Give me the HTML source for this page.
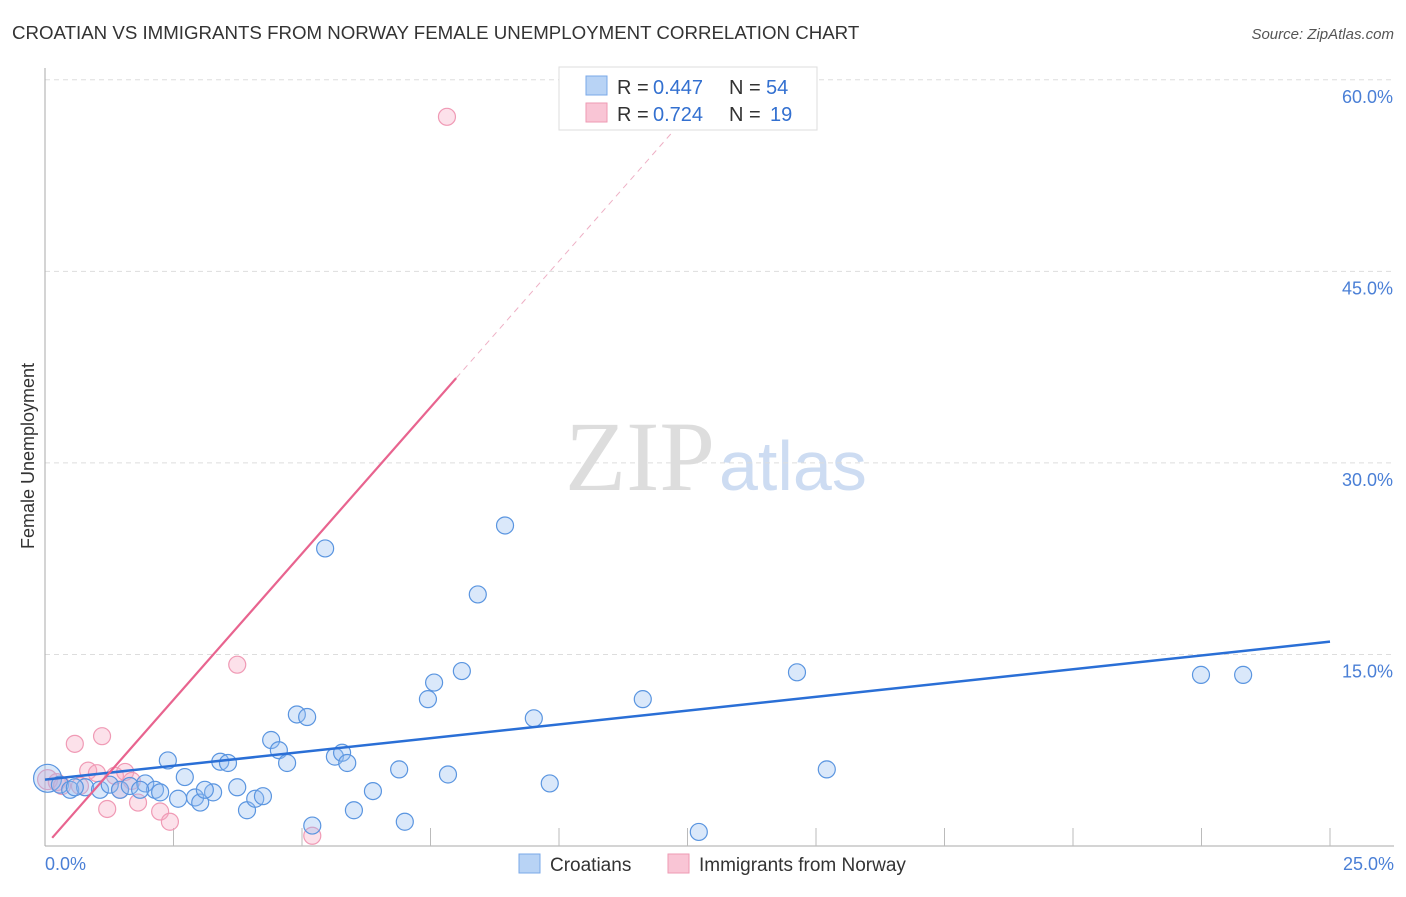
<!DOCTYPE html>
<html><head><meta charset="utf-8"><style>
body{margin:0;background:#fff;font-family:"Liberation Sans",sans-serif}
</style></head><body>
<svg id="chart" width="1406" height="892" font-family="Liberation Sans, sans-serif">
<text x="12" y="39" font-size="18.7" fill="#333">CROATIAN VS IMMIGRANTS FROM NORWAY FEMALE UNEMPLOYMENT CORRELATION CHART</text>
<text x="1394" y="39" font-size="15" fill="#555" font-style="italic" text-anchor="end">Source: ZipAtlas.com</text>
<text x="34" y="456" font-size="18" fill="#333" transform="rotate(-90 34 456)" text-anchor="middle">Female Unemployment</text>
<text x="715" y="490" font-size="100" fill="#ddd" text-anchor="end" font-family="Liberation Serif, serif">ZIP</text>
<text x="719" y="490" font-size="70" fill="#cddcf2">atlas</text>
<g id="grid"></g><g id="marks"></g>
<g>
<rect x="559" y="67" width="258" height="63" fill="#fff" stroke="#ddd"/>
<rect x="586" y="76" width="21" height="19" fill="#b8d3f5" stroke="#7aa8e8"/>
<rect x="586" y="103" width="21" height="19" fill="#f9c5d5" stroke="#ee9ab3"/>
<text x="617" y="94" font-size="20" fill="#333">R =</text>
<text x="653" y="94" font-size="20" fill="#3370d0">0.447</text>
<text x="729" y="94" font-size="20" fill="#333">N =</text>
<text x="766" y="94" font-size="20" fill="#3370d0">54</text>
<text x="617" y="121" font-size="20" fill="#333">R =</text>
<text x="653" y="121" font-size="20" fill="#3370d0">0.724</text>
<text x="729" y="121" font-size="20" fill="#333">N =</text>
<text x="770" y="121" font-size="20" fill="#3370d0">19</text>
</g>
<g>
<rect x="519" y="854" width="21" height="19" fill="#b8d3f5" stroke="#7aa8e8"/>
<text x="550" y="871" font-size="19" fill="#333">Croatians</text>
<rect x="668" y="854" width="21" height="19" fill="#f9c5d5" stroke="#ee9ab3"/>
<text x="699" y="871" font-size="19" fill="#333">Immigrants from Norway</text>
</g>
</svg>
<script>
const yTicks=[15,30,45,60];
const yTickLabels=["15.0%","30.0%","45.0%","60.0%"];
const xTickLabels=["0.0%","25.0%"];
const croX=[0.05,0.29,0.49,0.78,1.07,1.26,1.46,1.65,1.95,2.14,2.24,2.39,2.59,2.72,2.92,3.02,3.27,3.41,3.56,3.74,3.93,4.09,4.24,4.4,4.55,4.71,4.9,5.1,5.2,5.45,5.64,5.78,5.88,6.01,6.38,6.89,7.0,7.45,7.57,7.84,8.11,8.42,8.95,9.51,9.82,11.63,12.72,14.63,15.21,22.49,23.31,0.58,1.85,3.11];
const croY=[5.3,4.8,4.4,4.6,4.4,4.8,4.4,4.7,4.9,4.4,4.2,6.7,3.7,5.4,3.8,3.4,4.2,6.6,6.5,4.6,2.8,3.7,3.9,8.3,7.5,6.5,10.3,10.1,1.6,23.3,7.0,7.3,6.5,2.8,4.3,6.0,1.9,11.5,12.8,5.6,13.7,19.7,25.1,10.0,4.9,11.5,1.1,13.6,6.0,13.4,13.4,4.6,4.4,4.4];
const norX=[0.05,0.23,0.58,0.84,1.01,1.11,1.21,1.36,1.56,1.69,1.81,2.24,2.43,3.74,5.2,7.82,0.33,0.68,1.46];
const norY=[5.2,5.0,8.0,5.9,5.7,8.6,2.9,5.5,5.8,5.1,3.4,2.7,1.9,14.2,0.8,57.1,4.7,4.7,4.4];
const croTrend=[5.2,16.0];
const norTrend=[0.0,4.58];
const X=v=>45+v*51.4, Y=v=>846-v*12.77;
const NS="http://www.w3.org/2000/svg";
function mk(t,a,p){const e=document.createElementNS(NS,t);for(const k in a)e.setAttribute(k,a[k]);p.appendChild(e);return e;}
const g=document.getElementById('grid'), m=document.getElementById('marks');
yTicks.forEach((t,i)=>{
 const l=mk('line',{x1:45,x2:1394,y1:Y(t),y2:Y(t),stroke:'#ddd','stroke-dasharray':'5,4'},g);
 
 const tx=mk('text',{x:1393,y:Y(t)+23,'font-size':18,fill:'#4a7fd6','text-anchor':'end'},g);tx.textContent=yTickLabels[i];
 
});
const ax=mk('line',{x1:45,x2:45,y1:68,y2:846,stroke:'#aaa'},g);

const bx=mk('line',{x1:45,x2:1394,y1:846,y2:846,stroke:'#aaa'},g);

for(let i=1;i<=10;i++){const tk=mk('line',{x1:X(i*2.5),x2:X(i*2.5),y1:828,y2:846,stroke:'#bbb'},g);
 }
[[0,'start',45],[25,'end',1394]].forEach((d,i)=>{const tx=mk('text',{x:d[2],y:870,'font-size':18,fill:'#4a7fd6','text-anchor':d[1]},g);tx.textContent=xTickLabels[i];
 });
norX.forEach((x,i)=>{const c=mk('circle',{cx:X(x),cy:Y(norY[i]),r:i==0?10:8.5,fill:'rgba(246,170,195,0.35)',stroke:'#f09ab5','stroke-width':1.2},m);
 });
croX.forEach((x,i)=>{const c=mk('circle',{cx:X(x),cy:Y(croY[i]),r:i==0?14:8.5,fill:'rgba(150,190,240,0.35)',stroke:'#5a95e0','stroke-width':1.2},m);
 });
let l=mk('line',{x1:X(0),y1:Y(croTrend[0]),x2:X(25),y2:Y(croTrend[1]),stroke:'#2a6fd6','stroke-width':2.5},m);

const nf=x=>norTrend[0]+norTrend[1]*x;
l=mk('line',{x1:X(0.14),y1:Y(nf(0.14)),x2:X(8.0),y2:Y(nf(8.0)),stroke:'#e8648f','stroke-width':2.2},m);

l=mk('line',{x1:X(8.0),y1:Y(nf(8.0)),x2:X(13.2),y2:Y(nf(13.2)),stroke:'#eeb0c5','stroke-width':1,'stroke-dasharray':'6,5'},m);

</script>
</body></html>
